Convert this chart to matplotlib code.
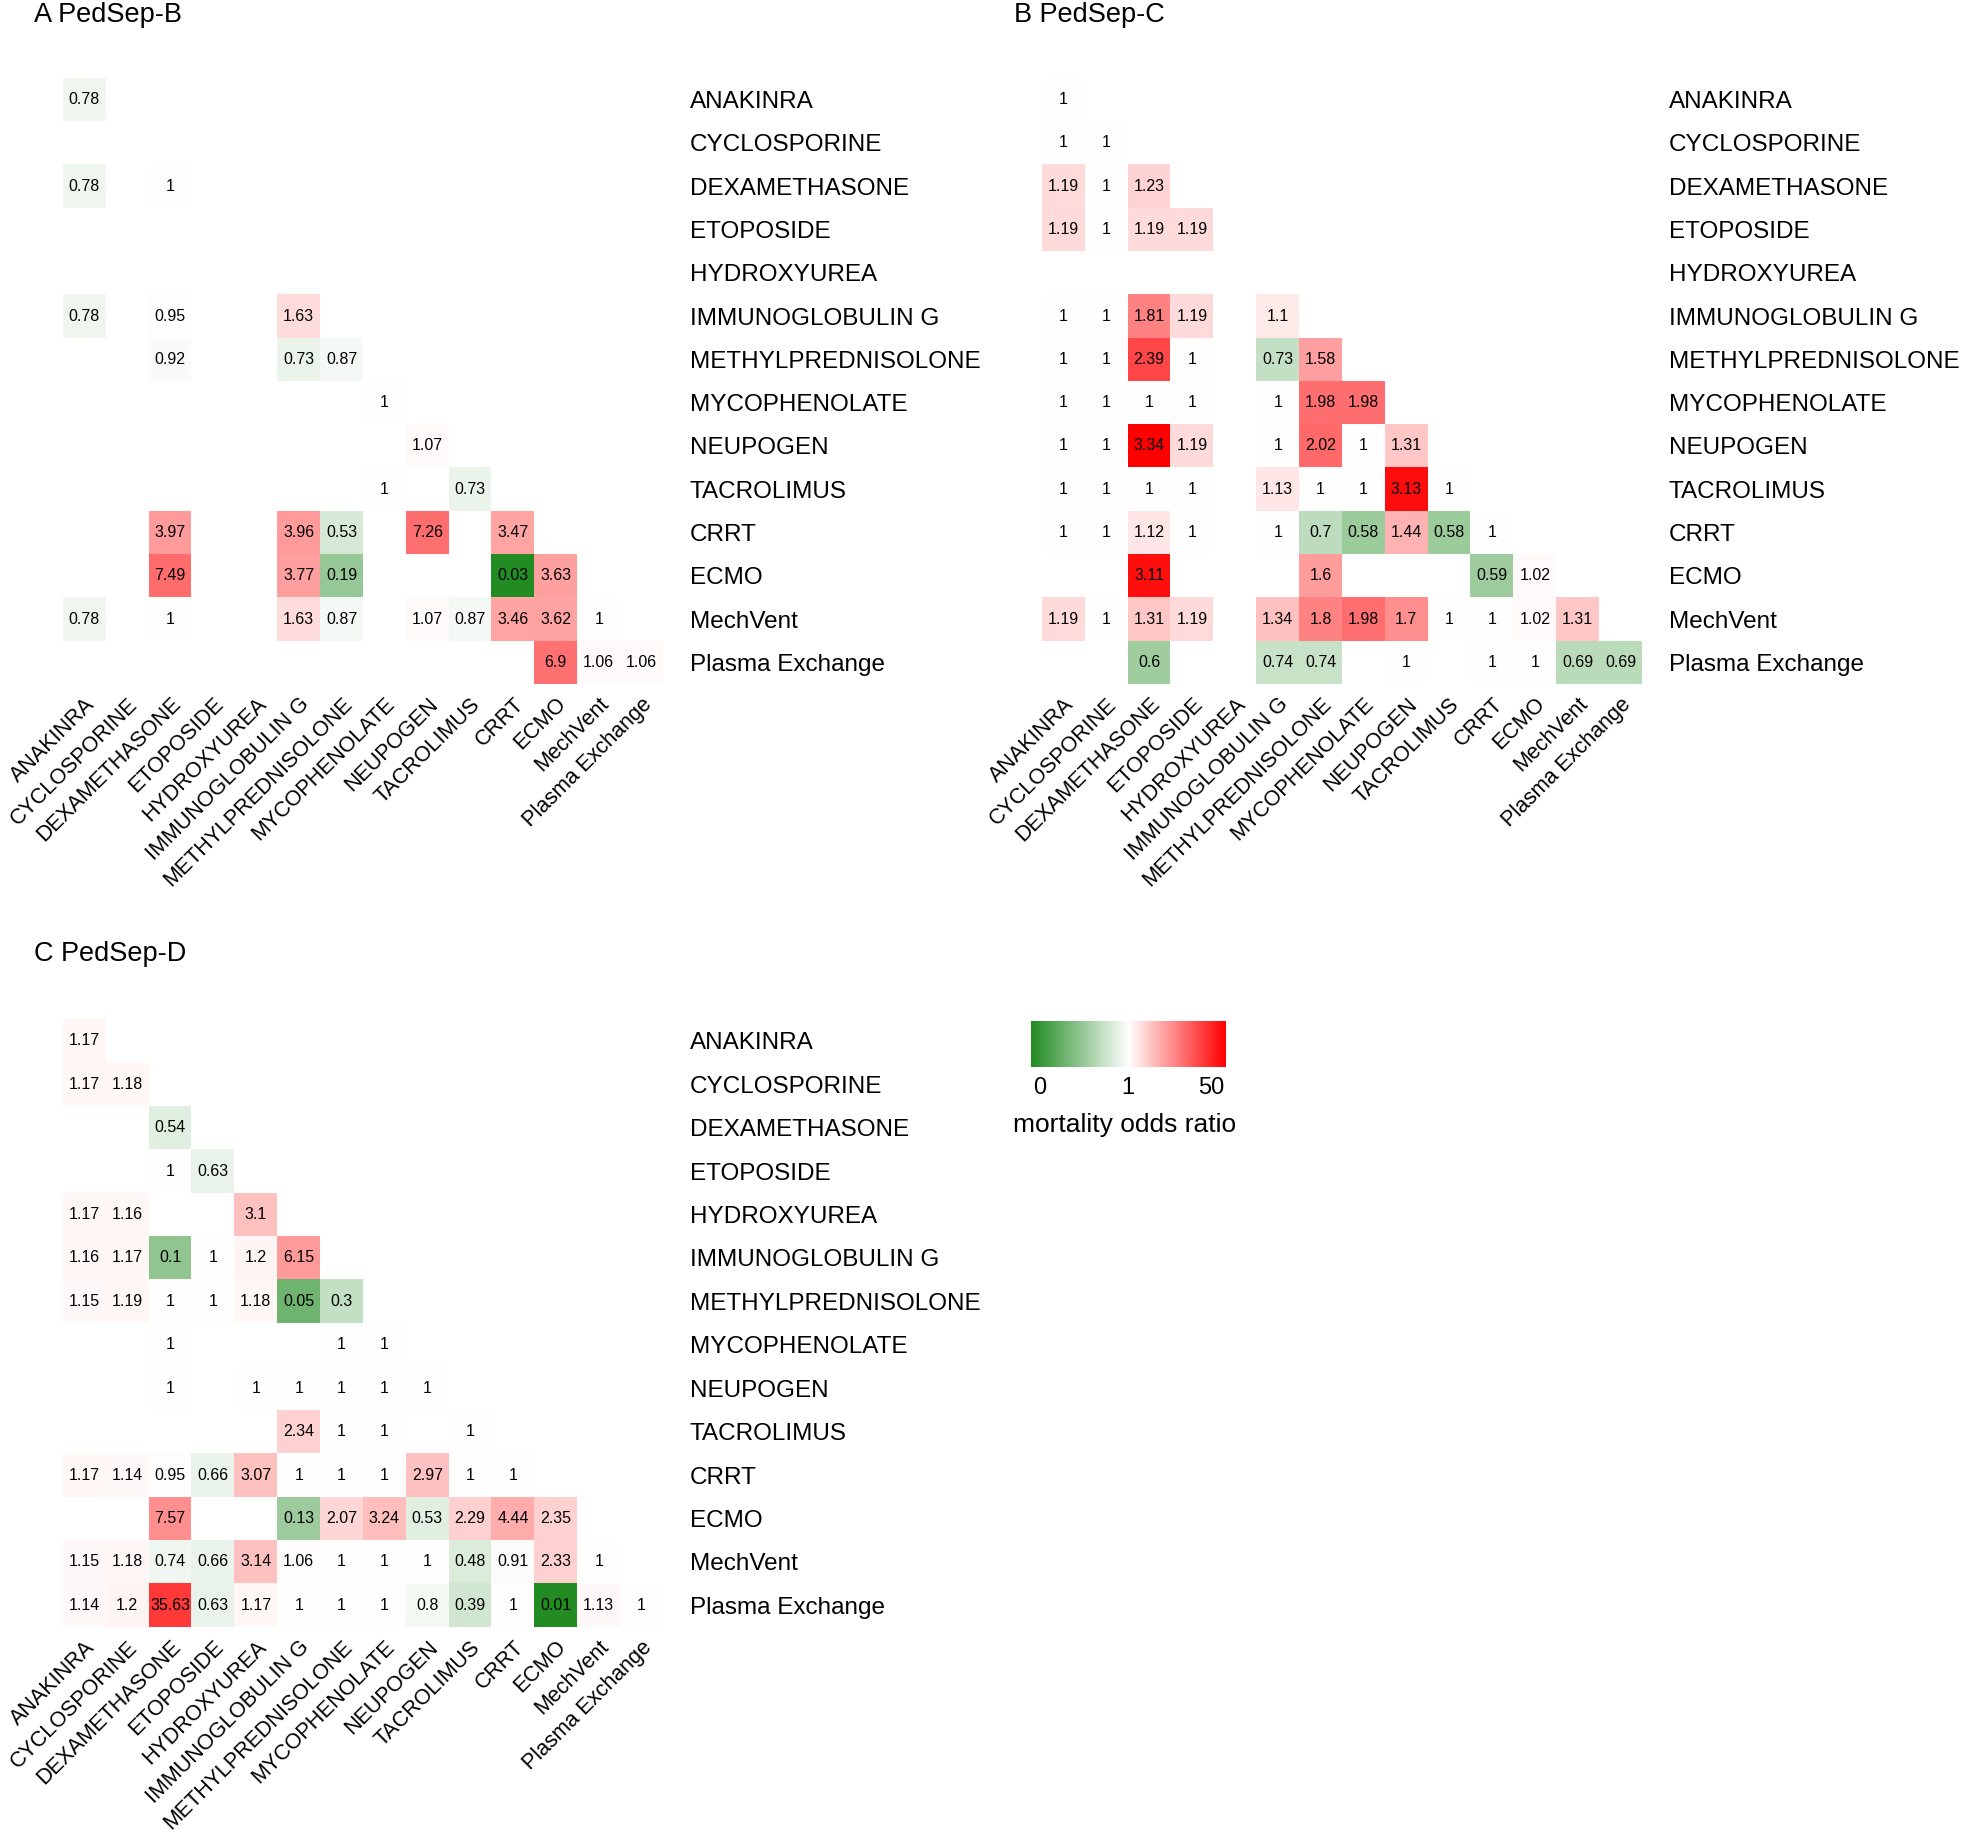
import numpy as np
import matplotlib
matplotlib.use('Agg')
import matplotlib.pyplot as plt
from matplotlib.colors import LinearSegmentedColormap, Normalize

plt.rcParams['font.family'] = ['Liberation Sans', 'DejaVu Sans']

drugs = ['ANAKINRA', 'CYCLOSPORINE', 'DEXAMETHASONE', 'ETOPOSIDE', 'HYDROXYUREA',
         'IMMUNOGLOBULIN G', 'METHYLPREDNISOLONE', 'MYCOPHENOLATE', 'NEUPOGEN',
         'TACROLIMUS', 'CRRT', 'ECMO', 'MechVent', 'Plasma Exchange']

n = np.nan
# lower triangle, row i holds columns 0..i (nan = no cell)
pedsep_b = [
    [0.78],
    [n, n],
    [0.78, n, 1],
    [n, n, n, n],
    [n, n, n, n, n],
    [0.78, n, 0.95, n, n, 1.63],
    [n, n, 0.92, n, n, 0.73, 0.87],
    [n, n, n, n, n, n, n, 1],
    [n, n, n, n, n, n, n, n, 1.07],
    [n, n, n, n, n, n, n, 1, n, 0.73],
    [n, n, 3.97, n, n, 3.96, 0.53, n, 7.26, n, 3.47],
    [n, n, 7.49, n, n, 3.77, 0.19, n, n, n, 0.03, 3.63],
    [0.78, n, 1, n, n, 1.63, 0.87, n, 1.07, 0.87, 3.46, 3.62, 1],
    [n, n, n, n, n, n, n, n, n, n, n, 6.9, 1.06, 1.06],
]
pedsep_c = [
    [1],
    [1, 1],
    [1.19, 1, 1.23],
    [1.19, 1, 1.19, 1.19],
    [n, n, n, n, n],
    [1, 1, 1.81, 1.19, n, 1.1],
    [1, 1, 2.39, 1, n, 0.73, 1.58],
    [1, 1, 1, 1, n, 1, 1.98, 1.98],
    [1, 1, 3.34, 1.19, n, 1, 2.02, 1, 1.31],
    [1, 1, 1, 1, n, 1.13, 1, 1, 3.13, 1],
    [1, 1, 1.12, 1, n, 1, 0.7, 0.58, 1.44, 0.58, 1],
    [n, n, 3.11, n, n, n, 1.6, n, n, n, 0.59, 1.02],
    [1.19, 1, 1.31, 1.19, n, 1.34, 1.8, 1.98, 1.7, 1, 1, 1.02, 1.31],
    [n, n, 0.6, n, n, 0.74, 0.74, n, 1, n, 1, 1, 0.69, 0.69],
]
pedsep_d = [
    [1.17],
    [1.17, 1.18],
    [n, n, 0.54],
    [n, n, 1, 0.63],
    [1.17, 1.16, n, n, 3.1],
    [1.16, 1.17, 0.1, 1, 1.2, 6.15],
    [1.15, 1.19, 1, 1, 1.18, 0.05, 0.3],
    [n, n, 1, n, n, n, 1, 1],
    [n, n, 1, n, 1, 1, 1, 1, 1],
    [n, n, n, n, n, 2.34, 1, 1, n, 1],
    [1.17, 1.14, 0.95, 0.66, 3.07, 1, 1, 1, 2.97, 1, 1],
    [n, n, 7.57, n, n, 0.13, 2.07, 3.24, 0.53, 2.29, 4.44, 2.35],
    [1.15, 1.18, 0.74, 0.66, 3.14, 1.06, 1, 1, 1, 0.48, 0.91, 2.33, 1],
    [1.14, 1.2, 35.63, 0.63, 1.17, 1, 1, 1, 0.8, 0.39, 1, 0.01, 1.13, 1],
]

legend_ticks = ['0', '1', '50']

W, H = 1968, 1836
fig = plt.figure(figsize=(W / 100, H / 100), dpi=100)


def px_axes(x0, y0, x1, y1):
    return fig.add_axes([x0 / W, 1 - y1 / H, (x1 - x0) / W, (y1 - y0) / H])


cmap = LinearSegmentedColormap.from_list('gwr', ['#228B22', 'white', '#FF0000'])
cmap.set_bad('white')


def to_matrix(rows):
    m = np.full((len(drugs), len(drugs)), np.nan)
    for i, r in enumerate(rows):
        m[i, :len(r)] = r
    return m


def draw_panel(rows, title, heat_box, title_xy, label_x):
    mat = to_matrix(rows)
    logm = np.log(mat)
    s = np.nanmax(np.abs(logm))
    ax = px_axes(*heat_box)
    ax.imshow(logm, cmap=cmap, norm=Normalize(-s, s), aspect='auto', interpolation='nearest')
    for i in range(mat.shape[0]):
        for j in range(mat.shape[1]):
            if not np.isnan(mat[i, j]):
                ax.text(j, i, f'{mat[i, j]:g}', ha='center', va='center', fontsize=11.5)
    for sp in ax.spines.values():
        sp.set_visible(False)
    ax.yaxis.tick_right()
    ax.set_yticks(range(len(drugs)))
    ax.set_yticklabels(drugs, fontsize=17.5)
    ax.tick_params(axis='y', length=0, pad=(label_x - heat_box[2]) * 0.72)

    ax.set_xticks(range(len(drugs)))
    ax.set_xticklabels(drugs, rotation=45, ha='right', va='top',
                       rotation_mode='anchor', fontsize=15.5)
    ax.tick_params(axis='x', length=0, pad=7)

    fig.text(title_xy[0] / W, 1 - title_xy[1] / H, title, ha='left', va='center', fontsize=19.5)


draw_panel(pedsep_b, 'A PedSep-B', (63, 78, 663, 684), (34, 15), 690)
draw_panel(pedsep_c, 'B PedSep-C', (1042, 78, 1642, 684), (1014, 15), 1669)
draw_panel(pedsep_d, 'C PedSep-D', (63, 1019, 663, 1627), (34, 954), 690)

# legend
axc = px_axes(1031, 1021, 1225, 1067)
axc.imshow(np.linspace(0, 1, 256).reshape(1, -1), cmap=cmap, aspect='auto',
           extent=(0, 1, 0, 1))
axc.set_xticks([0.045, 0.5, 0.93])
axc.set_xticklabels(legend_ticks, fontsize=17)
axc.set_yticks([])
axc.tick_params(axis='x', length=0, pad=7)
for sp in axc.spines.values():
    sp.set_visible(False)
fig.text(1125 / W, 1 - 1125 / H, 'mortality odds ratio', ha='center', va='center', fontsize=19)

fig.savefig('out.png', dpi=100)
